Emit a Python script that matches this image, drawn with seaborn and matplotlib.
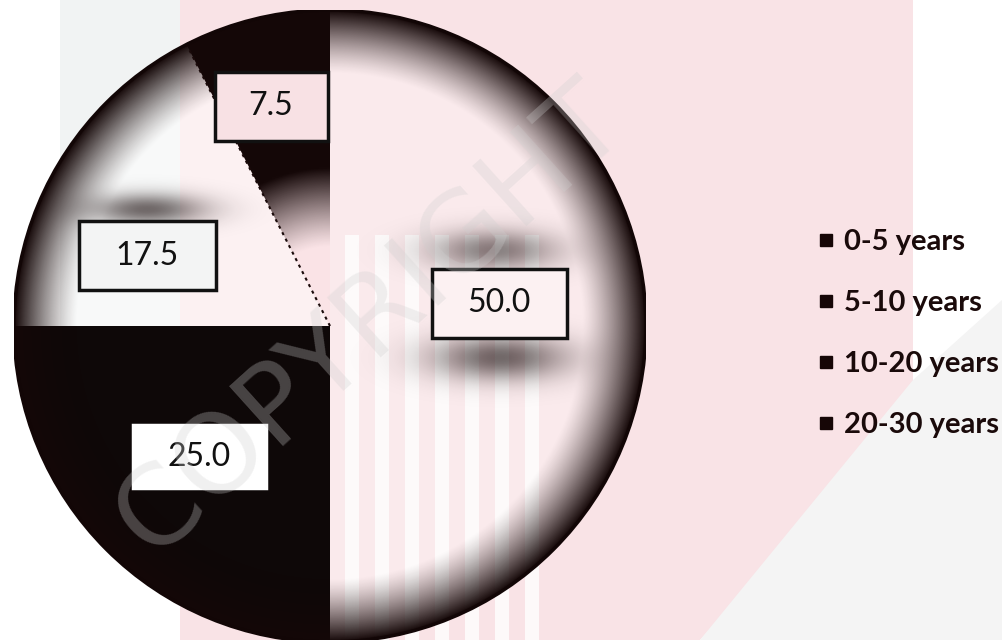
import numpy as np
import matplotlib
matplotlib.use("Agg")
import matplotlib.pyplot as plt
import matplotlib.transforms as mtrans
from matplotlib.patches import Rectangle, Polygon
from matplotlib.lines import Line2D
import seaborn as sns

# ---- data ----
categories = ["0-5 years", "5-10 years", "10-20 years", "20-30 years"]
values = [50.0, 25.0, 17.5, 7.5]
value_labels = ["50.0", "25.0", "17.5", "7.5"]

sns.set_theme(style="white")
plt.rcParams["font.family"] = ["Lato", "DejaVu Sans"]

W, H = 1002, 640
fig = plt.figure(figsize=(W / 100, H / 100), dpi=100)
fig.patch.set_facecolor("white")

# ---- faint watermark background ----
bg = fig.add_axes([0, 0, 1, 1], zorder=0)
bg.set_xlim(0, W)
bg.set_ylim(H, 0)
bg.axis("off")
pink = "#f9e3e6"
bg.add_patch(Rectangle((60, 0), 120, 340, fc="#f1f3f3", ec="none"))
bg.add_patch(Polygon([(180, 0), (913, 0), (913, 400), (700, 640), (180, 640)],
                     closed=True, fc=pink, ec="none"))
bg.add_patch(Polygon([(913, 380), (1002, 300), (1002, 640), (700, 640)],
                     closed=True, fc="#f4f4f4", ec="none"))
for sx in range(345, 540, 30):
    bg.add_patch(Rectangle((sx, 235), 14, 405, fc="white", ec="none", alpha=0.8))

# ---- pie ----
cx, cy, R = 330, 326, 316
ax = fig.add_axes([(cx - R) / W, (H - cy - R) / H, 2 * R / W, 2 * R / H], zorder=1)
ax.patch.set_alpha(0)

slice_colors = [(1, 1, 1, 0.25), "#0e0808", (1, 1, 1, 0.5), (0.98, 0.89, 0.9, 1.0)]
wedges, _ = ax.pie(values, startangle=90, counterclock=False,
                   colors=slice_colors, radius=1,
                   wedgeprops=dict(linewidth=0))
ax.set_xlim(-1, 1)
ax.set_ylim(-1, 1)
ax.set_aspect("equal")
ax.axis("off")

# smooth shading overlays (scan darkening) clipped to the pie
n = 500
gx, gy = np.meshgrid(np.linspace(-1, 1, n), np.linspace(-1, 1, n))
rr = np.hypot(gx, gy)
dark = np.array([0.08, 0.03, 0.03])


def overlay(alpha, clip):
    img = np.zeros((n, n, 4))
    img[..., :3] = dark
    img[..., 3] = np.clip(alpha, 0, 1)
    im = ax.imshow(img, extent=(-1, 1, -1, 1), origin="lower",
                   interpolation="bilinear", zorder=2)
    im.set_clip_path(clip)


# the small slice is dark toward the rim, fading toward the centre
overlay(np.clip((rr - 0.25) / 0.25, 0, 1) ** 1.2, wedges[3])

rim = np.clip((rr - 0.80) / 0.20, 0, 1) ** 1.3
blobs = np.zeros_like(rr)
for (bx, by, sx_, sy_, amp) in [(0.52, 0.24, 0.14, 0.045, 0.5),
                                (0.54, -0.10, 0.15, 0.05, 0.6),
                                (-0.58, 0.37, 0.13, 0.035, 0.6)]:
    blobs = np.maximum(blobs, amp * np.exp(-((gx - bx) ** 2 / (2 * sx_ ** 2)
                                            + (gy - by) ** 2 / (2 * sy_ ** 2))))
circle = plt.Circle((0, 0), 1.0, transform=ax.transData)
overlay(1 - (1 - rim) * (1 - blobs), circle)

# dotted boundary between the 17.5 and 7.5 slices
a = np.deg2rad(wedges[2].theta1)
ax.plot([0, np.cos(a)], [0, np.sin(a)], ls=(0, (1.5, 2)), color="#1a0a0a",
        lw=1.5, zorder=3)
ax.add_patch(plt.Circle((0, 0), 1.0, fill=False, ec="#120606", lw=2.5, zorder=3))

# ---- value labels in boxes ----
label_dist = [0.54, 0.585, 0.62, 0.72]
label_shift = [7.7, 0.0, 10.5, 1.5]
box_px = [(135, 69), (133, 63), (137, 69), (113, 69)]
box_fc = ["#fcf1f2", "#ffffff", "#f3f4f4", "#f8e1e4"]
box_ec = ["#111111", "#ffffff", "#111111", "#111111"]
for wd, lab, d, sh, (bw, bh), fc, ec in zip(wedges, value_labels, label_dist,
                                            label_shift, box_px, box_fc, box_ec):
    mid = np.deg2rad((wd.theta1 + wd.theta2) / 2 + sh)
    x, y = d * np.cos(mid), d * np.sin(mid)
    tr = fig.dpi_scale_trans + mtrans.ScaledTranslation(x, y, ax.transData)
    ax.add_patch(Rectangle((-bw / 200, -bh / 200), bw / 100, bh / 100,
                           transform=tr, fc=fc, ec=ec, lw=2.5, zorder=5))
    ax.text(x, y, lab, ha="center", va="center", fontsize=23,
            color="#111111", zorder=6)

# watermark lettering, very faint
fig.text(0.37, 0.50, "COPYRIGHT", fontsize=80, color="#cfcfcf", alpha=0.3,
         rotation=42, ha="center", va="center", family="DejaVu Sans",
         zorder=10)

# ---- legend ----
handles = [Line2D([], [], marker="s", ls="none", color="#160606", markersize=8.5)
           for _ in categories]
fig.legend(handles, categories, loc="upper left",
           bbox_to_anchor=(790 / W, 1 - 203 / H), frameon=False,
           prop=dict(family="Lato", weight="bold", size=21),
           labelspacing=1.2, handletextpad=0.3, handlelength=0.65,
           labelcolor="#1a0a0a")

fig.savefig("out.png", dpi=100, facecolor="white")
